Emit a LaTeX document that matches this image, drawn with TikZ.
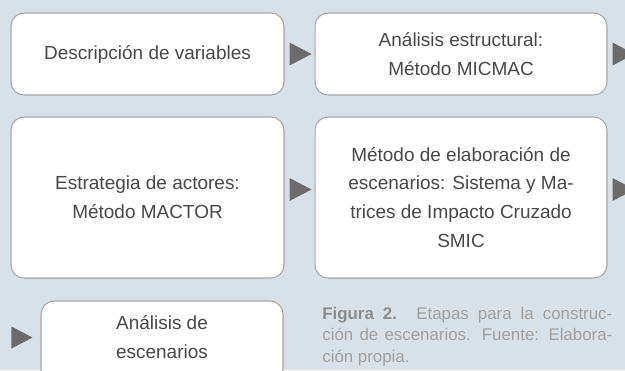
\documentclass[tikz,border=0pt]{standalone}
\usepackage{fontspec}
\setmainfont{Liberation Sans}
\usetikzlibrary{calc}

\definecolor{bgpanel}{HTML}{D9E1E8}
\definecolor{boxline}{HTML}{A6A6A6}
\definecolor{boxtext}{HTML}{484848}
\definecolor{tricol}{HTML}{6B6B6B}
\definecolor{capbold}{HTML}{8C8C8C}
\definecolor{captext}{HTML}{A0A0A0}

\begin{document}
\begin{tikzpicture}[
    x=0.02cm, y=-0.02cm,
    etapa/.style={rectangle, rounded corners=0.26cm, draw=boxline, line width=0.6pt,
        fill=white, inner sep=0pt, text=boxtext, align=center,
        font=\fontsize{10.8}{16.4}\selectfont, minimum height=1.64cm},
    tri/.style={fill=tricol},
    caption/.style={anchor=base west, inner sep=0pt, text=captext,
        font=\fontsize{9.6}{12}\selectfont}
]

% -------- Panel --------
\useasboundingbox (0,0) rectangle (625,370);
\clip (0,0) rectangle (625,370);
\fill[bgpanel] (0,0) rectangle (625,370);

% -------- Positions --------
\def\xA{147.5}   % left column
\def\xB{461}     % right column
\def\yA{54}      % first row
\def\yB{197.5}   % second row
\def\capw{5.8cm}

% -------- Stages --------
\node[etapa, minimum width=5.46cm] (b1) at (\xA,\yA) {Descripción de variables};
\node[etapa, minimum width=5.84cm] (b2) at (\xB,\yA) {Análisis estructural:\\Método MICMAC};
\node[etapa, minimum width=5.46cm, minimum height=3.22cm] (b3) at (\xA,\yB)
    {Estrategia de actores:\\Método MACTOR};
\node[etapa, minimum width=5.84cm, minimum height=3.22cm] (b4) at (\xB,\yB)
    {Método de elaboración de\\escenarios: Sistema y Ma-\\trices de Impacto Cruzado\\SMIC};
\node[etapa, minimum width=4.84cm] (b5) at (162,342) {};
\node[text=boxtext, align=center, font=\fontsize{10.8}{16.4}\selectfont] (t5) at (162,337)
    {Análisis de\\escenarios};

% -------- Triangles --------
\fill[tri] ($(b1.east)+(5,-11.5)$) -- ++(22,11.5) -- ++(-22,11.5) -- cycle;
\fill[tri] ($(b2.east)+(5,-11.5)$) -- ++(22,11.5) -- ++(-22,11.5) -- cycle;
\fill[tri] ($(b3.east)+(5,-19.5)$) -- ++(22,11.5) -- ++(-22,11.5) -- cycle;
\fill[tri] ($(b4.east)+(5,-19.5)$) -- ++(22,11.5) -- ++(-22,11.5) -- cycle;
\fill[tri] ($(b5.west)+(-29,-15.5)$) -- ++(21,11) -- ++(-21,11) -- cycle;

% -------- Caption --------
\node[caption] (cap1) at (322,319)
    {\makebox[\capw][s]{\textcolor{capbold}{\bfseries Figura 2.} Etapas para la construc-}};
\node[caption] (cap2) at (322,340.5)
    {\makebox[\capw][s]{ción de escenarios. Fuente: Elabora-}};
\node[caption] (cap3) at (322,362) {ción propia.};

\end{tikzpicture}
\end{document}
